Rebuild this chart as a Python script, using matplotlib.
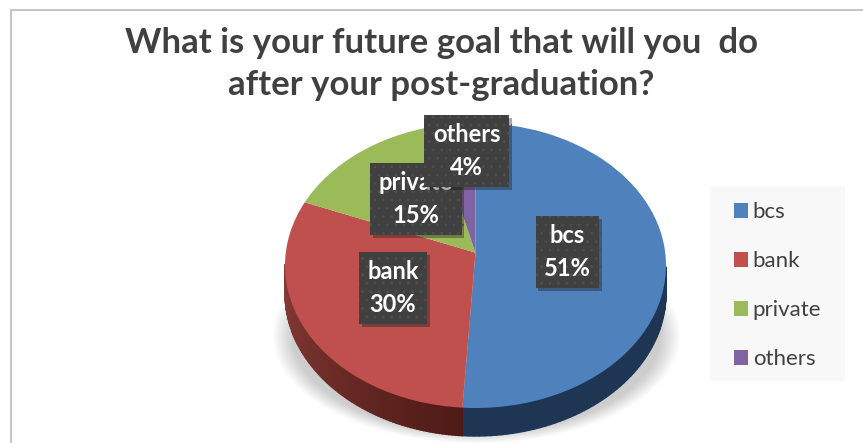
import numpy as np
import matplotlib
matplotlib.use('Agg')
import matplotlib.pyplot as plt
import matplotlib.patheffects as pe
from matplotlib.colors import to_rgb
from matplotlib.patches import Rectangle

plt.rcParams['font.family'] = ['Lato', 'DejaVu Sans']
plt.rcParams['hatch.linewidth'] = 0.9

# Data
names = ['bcs', 'bank', 'private', 'others']
values = [51, 30, 15, 4]
colors = ['#4f81bd', '#c0504d', '#9bbb59', '#8064a2']
title = 'What is your future goal that will you  do\nafter your post-graduation?'

# pie geometry in image pixels
cx, cy = 475.5, 265.5
rx, ry = 190.5, 142.5
tilt = 0.09   # perspective: moves the pie centre up the ellipse
depth = 28

W, H = 863, 443
fig = plt.figure(figsize=(W / 100, H / 100), dpi=100)
ax = fig.add_axes([0, 0, 1, 1])


def warp(u, v):
    # projective map of the unit disc, straight slice edges stay straight
    d = 1 + tilt * v
    return cx + rx * u * np.sqrt(1 - tilt ** 2) / d, cy - ry * (v + tilt) / d


wedges, _ = ax.pie(values, colors=colors, startangle=90, counterclock=False,
                   wedgeprops={'linewidth': 0}, radius=1)
ax.set_aspect('auto')
ax.set_xlim(0, W)
ax.set_ylim(H, 0)
ax.set_axis_off()

for w in wedges:
    p = w.get_path()
    x, y = warp(p.vertices[:, 0], p.vertices[:, 1])
    p.vertices = np.column_stack([x, y])
    w.set_zorder(3)

# soft shadow under the pie
gx, gy = np.meshgrid(np.arange(W), np.arange(H))
dist = np.hypot((gx - cx) / 204, (gy - 335) / 108)
alpha = np.clip((1 - dist) / 0.10, 0, 1) * np.clip((gy - 250) / 70, 0, 1) * 0.6
shadow = np.zeros((H, W, 4))
shadow[..., :3] = 0.68
shadow[..., 3] = alpha
ax.imshow(shadow, extent=(0, W, H, 0), aspect='auto', zorder=1)

# side wall, thin strips along the rim of each slice
side_start = {'bcs': '#1f3554', 'bank': '#8a3c38'}
side_end = {'bcs': '#1f3554', 'bank': '#4e1a16'}
for w, name in zip(wedges, names):
    if name not in side_start:
        continue
    a = np.radians(np.linspace(w.theta1, w.theta2, 120))
    x, y = warp(np.cos(a), np.sin(a))
    keep = np.where(y >= cy - 2)[0]
    c0 = np.array(to_rgb(side_start[name]))
    c1 = np.array(to_rgb(side_end[name]))
    for i in keep[:-1]:
        t = (a[i] - a[keep[0]]) / (a[keep[-1]] - a[keep[0]])
        if np.degrees(a[i]) % 360 < 180:
            continue
        ax.fill([x[i], x[i + 1], x[i + 1], x[i]],
                [y[i], y[i + 1], y[i + 1] + depth, y[i] + depth],
                color=c0 + (c1 - c0) * t, lw=1, zorder=2)

# data labels
label_pos = [(567.5, 252), (393, 288), (416, 199), (466.5, 151)]
for i, (name, val, pos) in enumerate(zip(names, values, label_pos)):
    ax.text(pos[0], pos[1], f'{name}\n{val}%', color='white', fontsize=17,
            fontweight='bold', ha='center', va='center', linespacing=1.5,
            zorder=5 + i,
            bbox=dict(boxstyle='square,pad=0.36', fc='#404040', ec='#4e4e4e',
                      hatch='..', lw=0,
                      path_effects=[pe.SimplePatchShadow(offset=(2, -2), alpha=0.35),
                                    pe.Normal()]))

ax.text(441, 64, title, color='#404040', fontsize=25, fontweight='bold',
        ha='center', va='center', linespacing=1.42, zorder=10)

# chart frame
ax.plot([11, 11, W], [H, 10, 10], color='#c4c4c4', lw=1.44, zorder=0,
        solid_joinstyle='miter')

# legend
ax.add_patch(Rectangle((710, 186), 135, 195, fc='#f8f8f8', ec='none', zorder=1))
leg = ax.legend(wedges, names, loc='upper left', bbox_to_anchor=(734 / W, 1 - 202 / H),
                fontsize=16, frameon=False, labelcolor='#404040', borderaxespad=0,
                borderpad=0, handlelength=0.64, handleheight=0.64, handletextpad=0.2,
                labelspacing=1.31)

fig.savefig('out.png', dpi=100)
